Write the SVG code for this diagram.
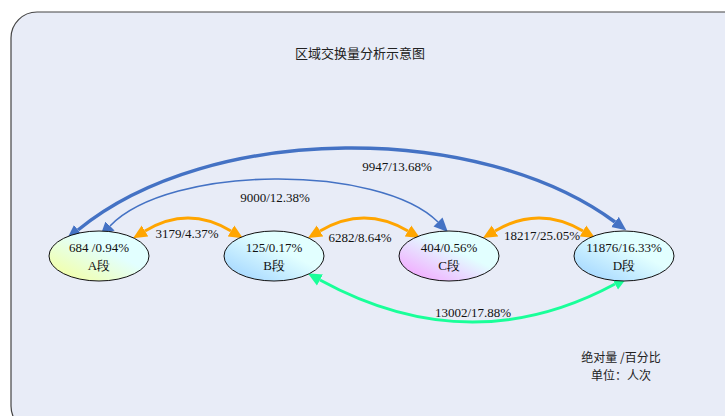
<svg xmlns="http://www.w3.org/2000/svg" width="725" height="416" viewBox="0 0 725 416">
<style>
.lbl{font-family:"Liberation Serif","Times New Roman",serif;font-size:13px;fill:#111;text-anchor:middle}
.cjk{font-family:"Noto Sans CJK SC","DejaVu Sans",sans-serif;font-size:13px;fill:#222;text-anchor:middle}
.leg{font-family:"Noto Sans CJK SC","DejaVu Sans",sans-serif;font-size:12px;fill:#222;text-anchor:middle}
.node{stroke:#111;stroke-width:1}
.e{fill:none}
</style>
<defs>
<linearGradient id="gA" x1="0" y1="1" x2="1" y2="0"><stop offset="0.1" stop-color="#f2ffa8"/><stop offset="0.6" stop-color="#e2ffff"/></linearGradient>
<linearGradient id="gB" x1="0" y1="1" x2="1" y2="0"><stop offset="0.1" stop-color="#a6d8ff"/><stop offset="0.6" stop-color="#e2ffff"/></linearGradient>
<linearGradient id="gC" x1="0" y1="1" x2="1" y2="0"><stop offset="0.1" stop-color="#f2aaff"/><stop offset="0.6" stop-color="#e2ffff"/></linearGradient>
<marker id="mBlue" markerUnits="userSpaceOnUse" markerWidth="14" markerHeight="14" refX="0" refY="5" orient="auto-start-reverse" viewBox="0 0 11 10"><path d="M0,0 L11,5 L0,10 z" fill="#4472c4"/></marker>
<marker id="mOrange" markerUnits="userSpaceOnUse" markerWidth="14" markerHeight="14" refX="0" refY="5" orient="auto-start-reverse" viewBox="0 0 11 10"><path d="M0,0 L11,5 L0,10 z" fill="#ffa500"/></marker>
<marker id="mGreen" markerUnits="userSpaceOnUse" markerWidth="14" markerHeight="14" refX="0" refY="5" orient="auto-start-reverse" viewBox="0 0 11 10"><path d="M0,0 L11,5 L0,10 z" fill="#19ff99"/></marker>
</defs>
<rect x="11" y="12" width="750" height="420" rx="26" ry="26" fill="#e8ecf7" stroke="#444" stroke-width="1.2"/>
<text class="cjk" x="360" y="58">区域交换量分析示意图</text>
<g id="connectors">
<path class="e" d="M78,230 C210,122 480,122 615,222" stroke="#4472c4" stroke-width="3.5" marker-start="url(#mBlue)" marker-end="url(#mBlue)"/>
<path class="e" d="M438,222 C380,164 170,164 110,226" stroke="#4472c4" stroke-width="1.6" marker-start="url(#mBlue)" marker-end="url(#mBlue)"/>
<path class="e" d="M145,231 Q188,205 231,231" stroke="#ffa500" stroke-width="3" marker-start="url(#mOrange)" marker-end="url(#mOrange)"/>
<path class="e" d="M320,231 Q364,205 408,231" stroke="#ffa500" stroke-width="3" marker-start="url(#mOrange)" marker-end="url(#mOrange)"/>
<path class="e" d="M495,231 Q539,205 583,231" stroke="#ffa500" stroke-width="3" marker-start="url(#mOrange)" marker-end="url(#mOrange)"/>
<path class="e" d="M320,280 Q470,362 615,284" stroke="#19ff99" stroke-width="3" marker-start="url(#mGreen)" marker-end="url(#mGreen)"/>
<text class="lbl" x="397" y="171">9947/13.68%</text>
<text class="lbl" x="275" y="202">9000/12.38%</text>
<text class="lbl" x="187" y="238">3179/4.37%</text>
<text class="lbl" x="360" y="242">6282/8.64%</text>
<text class="lbl" x="542" y="240">18217/25.05%</text>
<text class="lbl" x="473" y="317">13002/17.88%</text>
</g>
<g id="A"><ellipse class="node" cx="99" cy="256" rx="50" ry="25" fill="url(#gA)"/><text class="lbl" x="99" y="252">684 /0.94%</text><text class="lbl" x="99" y="270">A段</text></g>
<g id="B"><ellipse class="node" cx="274" cy="256" rx="50" ry="25" fill="url(#gB)"/><text class="lbl" x="274" y="252">125/0.17%</text><text class="lbl" x="274" y="270">B段</text></g>
<g id="C"><ellipse class="node" cx="449" cy="256" rx="50" ry="25" fill="url(#gC)"/><text class="lbl" x="449" y="252">404/0.56%</text><text class="lbl" x="449" y="270">C段</text></g>
<g id="D"><ellipse class="node" cx="624" cy="256" rx="50" ry="25" fill="url(#gB)"/><text class="lbl" x="624" y="252">11876/16.33%</text><text class="lbl" x="624" y="270">D段</text></g>
<g id="legend"><text class="leg" x="621" y="362">绝对量 /百分比</text><text class="leg" x="621" y="380">单位：人次</text></g>
</svg>
